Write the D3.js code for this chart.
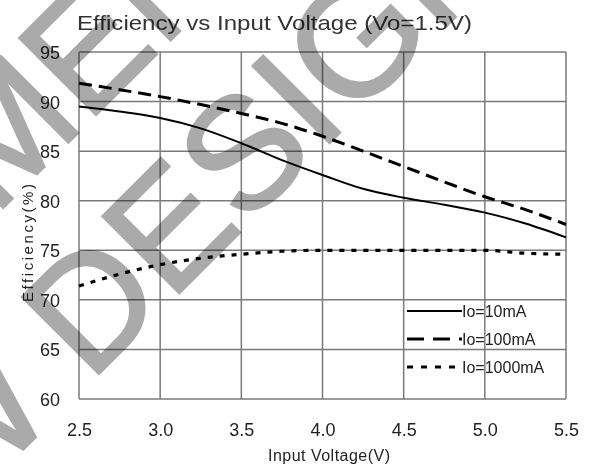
<!DOCTYPE html>
<html>
<head>
<meta charset="utf-8">
<script src="https://cdn.jsdelivr.net/npm/d3@7"></script>
<style>
  body { margin: 0; background: #fff; }
  svg { display: block; }
  .tick-label { font-family: "Liberation Sans Narrow", "Liberation Sans", Arial, sans-serif; font-size: 18px; fill: #222; }
  .legend-label { font-family: "Liberation Sans Narrow", "Liberation Sans", Arial, sans-serif; font-size: 16px; fill: #222; }
  .wm { font-family: "Liberation Sans", Arial, sans-serif; font-size: 158px; fill: #aaaaaa; stroke: #aaaaaa; stroke-width: 2.5px; }
</style>
</head>
<body>
<script>
// data
const voltages = [2.5, 2.75, 3.0, 3.25, 3.5, 3.75, 4.0, 4.25, 4.5, 4.75, 5.0, 5.25, 5.5];
const eff10mA = [89.5, 89.0, 88.35, 87.3, 85.8, 84.1, 82.6, 81.2, 80.3, 79.6, 78.8, 77.7, 76.3];
const eff100mA = [91.85, 91.2, 90.5, 89.7, 88.8, 87.8, 86.5, 85.0, 83.45, 81.9, 80.4, 79.1, 77.6];
const eff1000mA = [71.4, 72.6, 73.55, 74.2, 74.6, 74.9, 75.0, 75.0, 75.0, 75.0, 75.0, 74.7, 74.6];
const seriesNames = ['Io=10mA', 'Io=100mA', 'Io=1000mA'];
const xTicks = [2.5, 3.0, 3.5, 4.0, 4.5, 5.0, 5.5];
const yTicks = [60, 65, 70, 75, 80, 85, 90, 95];

const width = 592, height = 469;
const margin = {top: 52, right: 26, bottom: 70, left: 79};

const svg = d3.select('body').append('svg')
  .attr('width', width)
  .attr('height', height);

const x = d3.scaleLinear().domain([2.5, 5.5]).range([margin.left, width - margin.right]);
const y = d3.scaleLinear().domain([60, 95]).range([height - margin.bottom, margin.top]);

// grid
svg.append('g').selectAll('line')
  .data(xTicks)
  .join('line')
  .attr('x1', d => x(d)).attr('x2', d => x(d))
  .attr('y1', y(60)).attr('y2', y(95))
  .attr('stroke', '#7a7a7a').attr('stroke-width', 1.5);

svg.append('g').selectAll('line')
  .data(yTicks)
  .join('line')
  .attr('x1', x(2.5)).attr('x2', x(5.5))
  .attr('y1', d => y(d)).attr('y2', d => y(d))
  .attr('stroke', '#7a7a7a').attr('stroke-width', 1.5);

// axes (labels only)
const yAxis = svg.append('g')
  .attr('transform', `translate(${margin.left},0)`)
  .call(d3.axisLeft(y).tickValues(yTicks).tickSize(0).tickPadding(19).tickFormat(d3.format('d')));
yAxis.select('.domain').remove();
yAxis.selectAll('text').attr('class', 'tick-label').attr('dy', '0.36em');

const xAxis = svg.append('g')
  .attr('transform', `translate(0,${height - margin.bottom})`)
  .call(d3.axisBottom(x).tickValues(xTicks).tickSize(0).tickPadding(24).tickFormat(d3.format('.1f')));
xAxis.select('.domain').remove();
xAxis.selectAll('text').attr('class', 'tick-label');

// title
svg.append('text')
  .attr('x', 77).attr('y', 30)
  .attr('textLength', 395)
  .attr('lengthAdjust', 'spacingAndGlyphs')
  .style('font-family', '"Liberation Sans", Arial, sans-serif')
  .style('font-size', '21px')
  .style('fill', '#333')
  .text('Efficiency  vs Input Voltage (Vo=1.5V)');

// axis titles
svg.append('text')
  .attr('x', 329).attr('y', 461)
  .attr('text-anchor', 'middle')
  .attr('textLength', 122)
  .style('font-family', '"Liberation Sans Narrow", Arial, sans-serif')
  .style('font-size', '16px')
  .style('fill', '#222')
  .text('Input Voltage(V)');

svg.append('text')
  .attr('transform', 'translate(33,243) rotate(-90)')
  .attr('text-anchor', 'middle')
  .attr('textLength', 118)
  .style('font-family', '"Liberation Sans", Arial, sans-serif')
  .style('font-size', '15px')
  .style('fill', '#222')
  .text('Efficiency(%)');

// lines
const series = [
  {name: seriesNames[0], values: eff10mA, dash: null, width: 2, legendDash: null},
  {name: seriesNames[1], values: eff100mA, dash: '13,7', width: 3, legendDash: '17,9'},
  {name: seriesNames[2], values: eff1000mA, dash: '5,7', width: 3.2, legendDash: '6,8'}
];

const line = d3.line()
  .x(d => x(d[0]))
  .y(d => y(d[1]))
  .curve(d3.curveMonotoneX);

svg.append('g').selectAll('path')
  .data(series)
  .join('path')
  .attr('d', s => line(voltages.map((v, i) => [v, s.values[i]])))
  .attr('fill', 'none')
  .attr('stroke', '#000')
  .attr('stroke-width', s => s.width)
  .attr('stroke-dasharray', s => s.dash);

// legend
const legend = svg.append('g').selectAll('g')
  .data(series)
  .join('g')
  .attr('transform', (s, i) => `translate(407,${311 + i * 28})`);

legend.append('line')
  .attr('x1', 0).attr('x2', 55)
  .attr('stroke', '#000')
  .attr('stroke-width', s => s.width)
  .attr('stroke-dasharray', s => s.legendDash);

legend.append('text')
  .attr('class', 'legend-label')
  .attr('x', 55).attr('y', 6)
  .text(s => s.name);

// watermark
const wm = svg.append('g')
  .attr('transform', 'translate(90,302) rotate(-45)')
  .style('mix-blend-mode', 'multiply')
  .style('pointer-events', 'none');

wm.append('text')
  .attr('class', 'wm')
  .attr('x', -470).attr('y', 57)
  .text('NEW DESIGN');

wm.append('text')
  .attr('class', 'wm')
  .attr('x', -596).attr('y', -128)
  .text('RECOMMENDED');
</script>
</body>
</html>
